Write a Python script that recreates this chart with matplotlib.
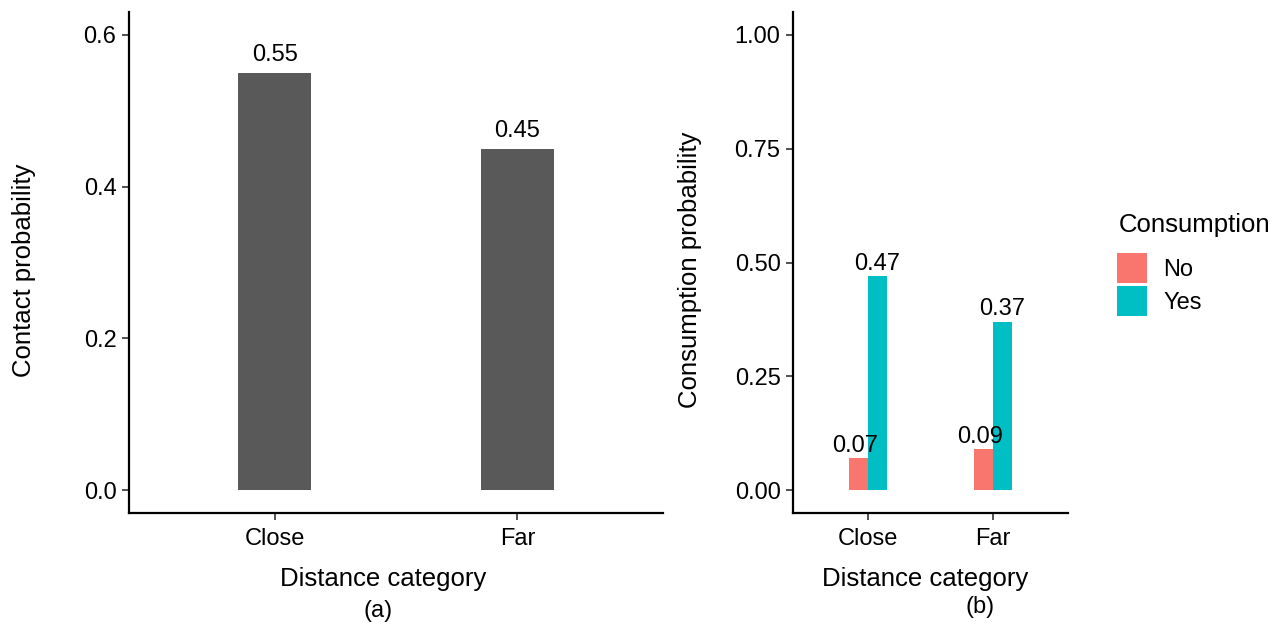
import matplotlib.pyplot as plt
import numpy as np

plt.rcParams['font.family'] = ['Liberation Sans', 'DejaVu Sans']

# data
categories = ['Close', 'Far']
contact_prob = [0.55, 0.45]
consumption_no = [0.07, 0.09]
consumption_yes = [0.47, 0.37]
left_ticks = [0.0, 0.2, 0.4, 0.6]
right_ticks = [0.0, 0.25, 0.5, 0.75, 1.0]

W, H = 1279, 626
fig = plt.figure(figsize=(W / 100, H / 100), dpi=100)

TICK_FS = 17
TITLE_FS = 18.5


def style_axes(ax):
    for s in ['top', 'right']:
        ax.spines[s].set_visible(False)
    for s in ['left', 'bottom']:
        ax.spines[s].set_linewidth(1.6)
        ax.spines[s].set_color('black')
    ax.tick_params(axis='both', length=5, width=1.2, color='#333333',
                   labelsize=TICK_FS, labelcolor='black', pad=4)
    ax.tick_params(axis='x', pad=6)


x = np.arange(len(categories)) + 1
ax_h = (513 - 12) / H

# panel (a)
ax1 = fig.add_axes([129 / W, (H - 513) / H, (663 - 129) / W, ax_h])
ax1.bar(x, contact_prob, width=0.3, color='#595959')
for xi, v in zip(x, contact_prob):
    ax1.annotate(f'{v:.2f}', (xi, v), xytext=(0, 5), textcoords='offset points',
                 ha='center', va='bottom', fontsize=TICK_FS)
ax1.set_xlim(0.4, 2.6)
ax1.set_ylim(-0.03, 0.63)
ax1.set_yticks(left_ticks)
ax1.set_yticklabels([f'{t:.1f}' for t in left_ticks])
ax1.set_xticks(x)
ax1.set_xticklabels(categories)
ax1.set_xlabel('Distance category', fontsize=TITLE_FS, va='center')
ax1.set_ylabel('Contact probability', fontsize=TITLE_FS, va='center')
ax1.xaxis.set_label_coords((383 - 129) / 534, (513 - 579) / 501)
ax1.yaxis.set_label_coords((24 - 129) / 534, (513 - 270) / 501)
style_axes(ax1)

# panel (b)
ax2 = fig.add_axes([793 / W, (H - 513) / H, (1068 - 793) / W, ax_h])
bw = 0.15
ax2.bar(x - bw / 2, consumption_no, width=bw, color='#F8766D', label='No')
ax2.bar(x + bw / 2, consumption_yes, width=bw, color='#00BFC4', label='Yes')
for xi, v in zip(x - bw / 2, consumption_no):
    ax2.annotate(f'{v:.2f}', (xi - 0.03, v), xytext=(0, 1), textcoords='offset points',
                 ha='center', va='bottom', fontsize=TICK_FS)
for xi, v in zip(x + bw / 2, consumption_yes):
    ax2.annotate(f'{v:.2f}', (xi, v), xytext=(0, 1), textcoords='offset points',
                 ha='center', va='bottom', fontsize=TICK_FS)
ax2.set_xlim(0.4, 2.6)
ax2.set_ylim(-0.05, 1.05)
ax2.set_yticks(right_ticks)
ax2.set_yticklabels([f'{t:.2f}' for t in right_ticks])
ax2.set_xticks(x)
ax2.set_xticklabels(categories)
ax2.set_xlabel('Distance category', fontsize=TITLE_FS, va='center')
ax2.set_ylabel('Consumption probability', fontsize=TITLE_FS, va='center')
ax2.xaxis.set_label_coords((925 - 793) / 275, (513 - 579) / 501)
ax2.yaxis.set_label_coords((690 - 793) / 275, (513 - 270) / 501)
style_axes(ax2)

# legend
fig.text(1119 / W, 1 - 225 / H, 'Consumption', ha='left', va='center', fontsize=TITLE_FS)
fig.legend(handles=[ax2.patches[0], ax2.patches[2]], labels=['No', 'Yes'],
           loc='upper left', bbox_to_anchor=(1117 / W, 1 - 253 / H), frameon=False,
           fontsize=TICK_FS, handlelength=1.28, handleheight=1.58,
           handletextpad=0.68, labelspacing=0.12, borderaxespad=0, borderpad=0)

fig.text(378 / W, 1 - 611 / H, '(a)', ha='center', va='center', fontsize=TICK_FS)
fig.text(980 / W, 1 - 607 / H, '(b)', ha='center', va='center', fontsize=TICK_FS)

fig.savefig('out.png', dpi=100)
